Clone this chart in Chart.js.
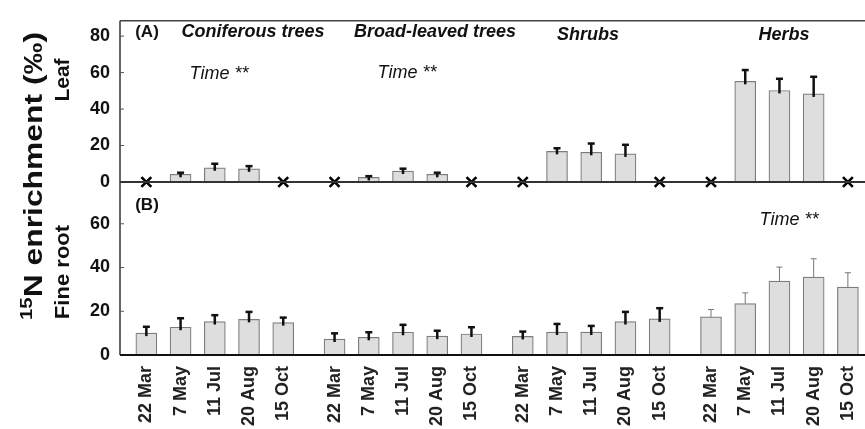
<!DOCTYPE html>
<html>
<head>
<meta charset="utf-8">
<script src="https://cdn.jsdelivr.net/npm/chart.js@4.4.1/dist/chart.umd.min.js"></script>
<style>
  html, body { margin: 0; padding: 0; background: #fff; }
  #wrap { position: relative; width: 865px; height: 429px; overflow: hidden; }
  canvas { position: absolute; left: 0; top: 0; }
</style>
</head>
<body>
<div id="wrap">
  <canvas id="rootChart" width="865" height="429"></canvas>
  <canvas id="leafChart" width="865" height="429"></canvas>
</div>
<script>
const groups = ["Coniferous trees", "Broad-leaved trees", "Shrubs", "Herbs"];
const dates = ["22 Mar", "7 May", "11 Jul", "20 Aug", "15 Oct"];

// (A) leaf, null = no bar (marked with a cross)
const leafMean = [null, 4.2, 7.8, 7.2, null,  null, 2.5, 6.0, 4.2, null,  null, 16.8, 16.3, 15.4, null,  null, 55.2, 50.2, 48.3, null];
const leafErr  = [null, 0.9, 2.2, 1.5, null,  null, 0.7, 1.3, 0.9, null,  null, 1.7, 4.8, 5.0, null,  null, 6.2, 6.4, 9.4, null];

// (B) fine root
const rootMean = [10.0, 12.7, 15.3, 16.3, 14.8,  7.3, 8.1, 10.4, 8.6, 9.6,  8.5, 10.5, 10.5, 15.3, 16.5,  17.4, 23.5, 33.8, 35.6, 31.0];
const rootErr  = [2.9, 4.1, 2.9, 3.4, 2.3,  2.6, 2.3, 3.4, 2.5, 3.1,  2.2, 3.7, 2.8, 4.4, 4.9,  3.4, 4.9, 6.4, 8.4, 6.6];

const leafTicks = [0, 20, 40, 60, 80];
const rootTicks = [0, 20, 40, 60];

const FONT = "'Liberation Sans', Arial, sans-serif";
const LEFT = 120;

// groups are split by an extra half slot
const xPos = [];
groups.forEach((g, gi) => dates.forEach((d, di) => xPos.push(gi * 5.5 + di)));

function bars(means, errs) {
  let out = [];
  means.forEach((v, i) => {
    if (v !== null) out.push({ x: xPos[i], y: v, err: errs[i] });
  });
  return out;
}

function crosses(means) {
  let out = [];
  means.forEach((v, i) => {
    if (v === null) out.push({ x: xPos[i], y: 0 });
  });
  return out;
}

function line(ctx, x1, y1, x2, y2, color, width) {
  ctx.beginPath();
  ctx.strokeStyle = color;
  ctx.lineWidth = width;
  ctx.moveTo(x1, y1);
  ctx.lineTo(x2, y2);
  ctx.stroke();
}

const errorBars = {
  id: "errorBars",
  afterDatasetsDraw(chart) {
    let ctx = chart.ctx;
    let ys = chart.scales.y;
    chart.data.datasets.forEach((ds, di) => {
      if (ds.type !== "bar") return;
      let meta = chart.getDatasetMeta(di);
      meta.data.forEach((el, i) => {
        let p = ds.data[i];
        let top = ys.getPixelForValue(p.y + p.err);
        let thin = ds.thinGroups && ds.thinGroups.includes(Math.floor(p.x / 5.5));
        let color = thin ? "#777" : "#111";
        let w = thin ? 1 : 2.5;
        let cap = thin ? 3 : 3.5;
        ctx.save();
        line(ctx, el.x, el.y + (thin ? 0 : 3), el.x, top, color, w);
        line(ctx, el.x - cap, top, el.x + cap, top, color, thin ? 1 : 2.5);
        ctx.restore();
      });
    });
  }
};

const frame = {
  id: "frame",
  afterDraw(chart, args, opts) {
    let ctx = chart.ctx;
    let a = chart.chartArea;
    let ys = chart.scales.y;
    ctx.save();
    line(ctx, a.left, a.top, a.left, a.bottom, "#333", 1.5);
    opts.ticks.forEach(v => {
      if (v === 0) return;
      let y = ys.getPixelForValue(v);
      line(ctx, a.left, y, a.left + 4, y, "#555", 1);
    });
    if (opts.topLine) line(ctx, a.left, a.top, a.right, a.top, "#444", 1.5);
    line(ctx, a.left, a.bottom, a.right, a.bottom, opts.baseColor, 2);
    ctx.restore();
  }
};

function text(ctx, str, x, y, size, style, align) {
  ctx.font = style + " " + size + "px " + FONT;
  ctx.fillStyle = "#111";
  ctx.textAlign = align || "center";
  ctx.textBaseline = "middle";
  ctx.fillText(str, x, y);
}

function vtext(ctx, str, x, y, size, stretch) {
  ctx.save();
  ctx.translate(x, y);
  ctx.rotate(-Math.PI / 2);
  ctx.scale(stretch, 1);
  text(ctx, str, 0, 0, size, "bold");
  ctx.restore();
}

const notes = {
  id: "notes",
  afterDraw(chart, args, opts) {
    let ctx = chart.ctx;
    ctx.save();
    if (opts.panel === "A") {
      text(ctx, "(A)", 147, 32, 17, "bold");
      text(ctx, groups[0], 253, 32, 18, "italic bold");
      text(ctx, groups[1], 435, 32, 18, "italic bold");
      text(ctx, groups[2], 588, 35, 18, "italic bold");
      text(ctx, groups[3], 784, 35, 18, "italic bold");
      text(ctx, "Time **", 219, 74, 18, "italic");
      text(ctx, "Time **", 407, 73, 18, "italic");
    } else {
      text(ctx, "(B)", 147, 205, 17, "bold");
      text(ctx, "Time **", 789, 220, 18, "italic");
      vtext(ctx, "Leaf", 63, 80, 21, 1);
      vtext(ctx, "Fine root", 63, 272, 21, 1.05);
      // main title with superscript 15
      ctx.save();
      ctx.translate(33, 176);
      ctx.rotate(-Math.PI / 2);
      ctx.fillStyle = "#111";
      ctx.textBaseline = "alphabetic";
      ctx.font = "bold 16px " + FONT;
      let w1 = ctx.measureText("15").width;
      ctx.font = "bold 25px " + FONT;
      let main = "N enrichment (\u2030)";
      let w2 = ctx.measureText(main).width;
      let s = 288 / (w1 + w2);
      ctx.scale(s, 1);
      let x0 = -(w1 + w2) / 2;
      ctx.font = "bold 16px " + FONT;
      ctx.textAlign = "left";
      ctx.fillText("15", x0, -1);
      ctx.font = "bold 25px " + FONT;
      ctx.fillText(main, x0 + w1, 9);
      ctx.restore();
    }
    ctx.restore();
  }
};

function yScale(max, ticks) {
  return {
    min: 0,
    max: max,
    afterFit(s) { s.width = LEFT; },
    afterBuildTicks(s) { s.ticks = ticks.map(v => ({ value: v })); },
    grid: { display: false, drawTicks: false },
    border: { display: false },
    ticks: { padding: 10, color: "#111", font: { family: FONT, size: 18, weight: "bold" } }
  };
}

function datasets(mean, err, thin) {
  return [
    {
      type: "bar",
      data: bars(mean, err),
      backgroundColor: "#dedede",
      borderColor: "#7c7c7c",
      borderWidth: 1.2,
      barThickness: 21,
      thinGroups: thin
    },
    {
      type: "line",
      data: crosses(mean),
      showLine: false,
      pointStyle: "crossRot",
      pointRadius: 7,
      pointBorderWidth: 2.6,
      pointBorderColor: "#000",
      borderColor: "#000",
      clip: false
    }
  ];
}

new Chart(document.getElementById("rootChart"), {
  type: "bar",
  data: { datasets: datasets(rootMean, rootErr, [3]) },
  options: {
    responsive: false,
    animation: false,
    devicePixelRatio: 1,
    layout: { autoPadding: false, padding: { top: 182, left: 0, right: 0, bottom: 0 } },
    plugins: {
      legend: { display: false },
      tooltip: { enabled: false },
      frame: { ticks: rootTicks, topLine: false, baseColor: "#111" },
      notes: { panel: "B" }
    },
    scales: {
      x: {
        type: "linear",
        min: -0.77,
        max: 21,
        offset: false,
        afterFit(s) { s.height = 74; s.paddingLeft = 0; s.paddingRight = 0; },
        afterBuildTicks(s) { s.ticks = xPos.map(v => ({ value: v })); },
        grid: { display: false, drawTicks: false, offset: false },
        border: { display: false },
        ticks: {
          autoSkip: false,
          minRotation: 90,
          maxRotation: 90,
          padding: 11,
          color: "#222",
          font: { family: FONT, size: 18, weight: "bold" },
          callback: v => dates[xPos.indexOf(v) % 5]
        }
      },
      y: yScale(79.1, rootTicks)
    }
  },
  plugins: [errorBars, frame, notes]
});

new Chart(document.getElementById("leafChart"), {
  type: "bar",
  data: { datasets: datasets(leafMean, leafErr, []) },
  options: {
    responsive: false,
    animation: false,
    devicePixelRatio: 1,
    layout: { autoPadding: false, padding: { top: 11, left: 0, right: 0, bottom: 429 - 182 } },
    plugins: {
      legend: { display: false },
      tooltip: { enabled: false },
      frame: { ticks: leafTicks, topLine: true, baseColor: "#333" },
      notes: { panel: "A" }
    },
    scales: {
      x: { type: "linear", min: -0.77, max: 21, offset: false, display: false, grid: { offset: false } },
      y: yScale(88.4, leafTicks)
    }
  },
  plugins: [errorBars, frame, notes]
});
</script>
</body>
</html>
